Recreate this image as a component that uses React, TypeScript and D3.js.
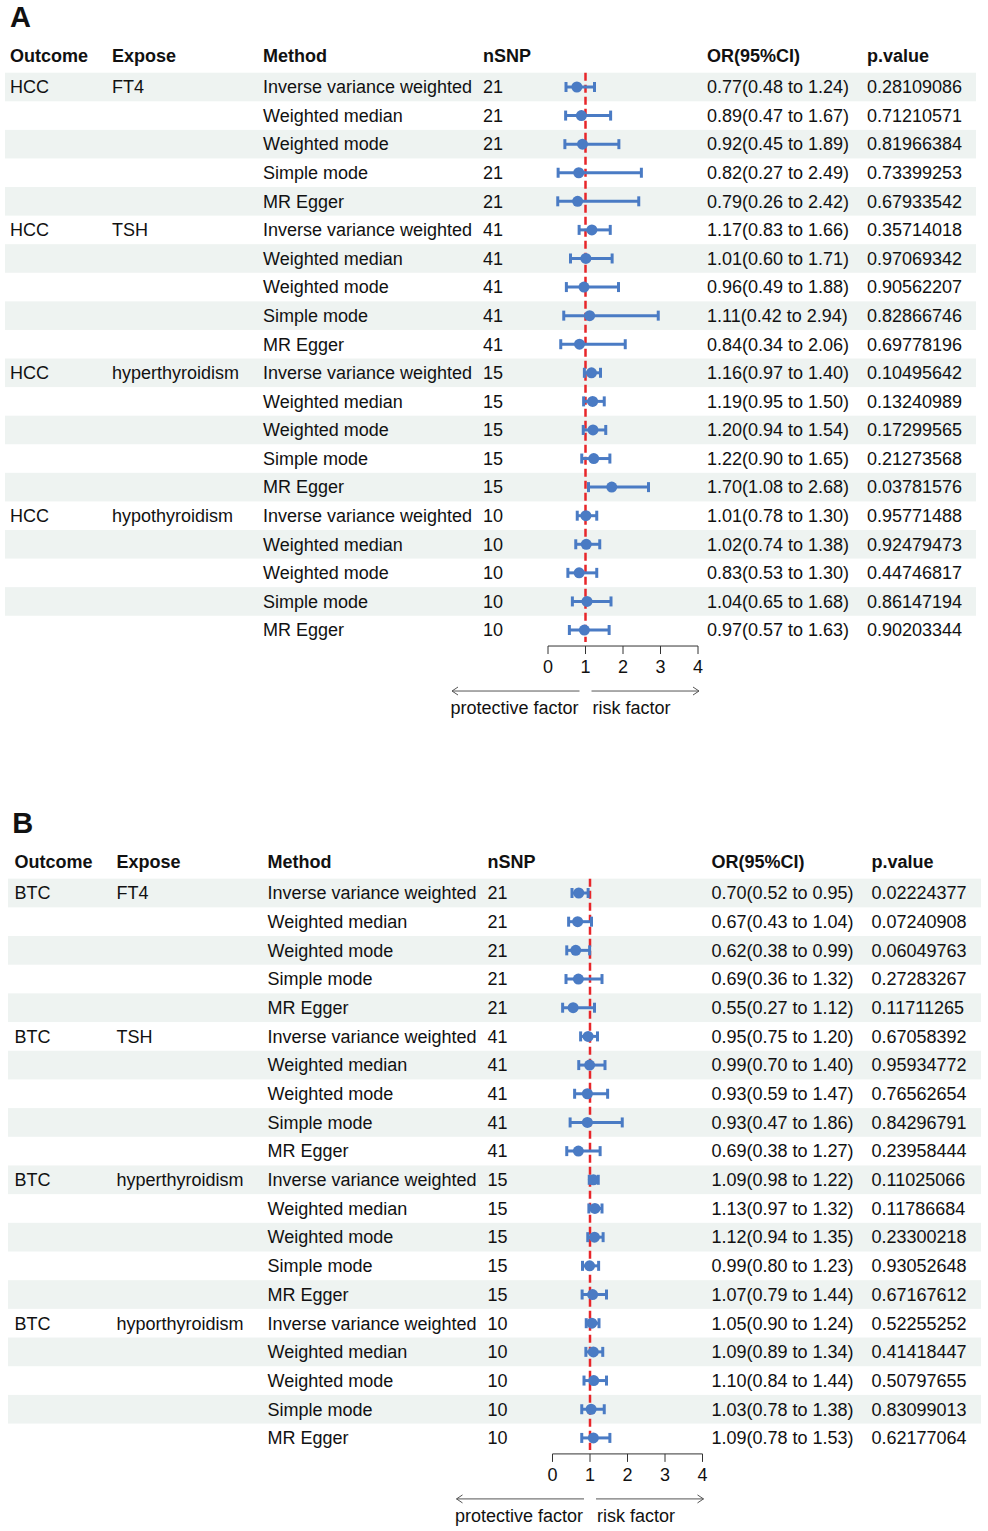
import React from 'react';
import * as d3 from 'd3';

// ---- data ----
const methods = ['Inverse variance weighted', 'Weighted median', 'Weighted mode', 'Simple mode', 'MR Egger'];

const exposeA = ['FT4', 'TSH', 'hyperthyroidism', 'hypothyroidism'];
const nsnpA = [21, 41, 15, 10];
const orA = [0.77, 0.89, 0.92, 0.82, 0.79, 1.17, 1.01, 0.96, 1.11, 0.84, 1.16, 1.19, 1.20, 1.22, 1.70, 1.01, 1.02, 0.83, 1.04, 0.97];
const lowA = [0.48, 0.47, 0.45, 0.27, 0.26, 0.83, 0.60, 0.49, 0.42, 0.34, 0.97, 0.95, 0.94, 0.90, 1.08, 0.78, 0.74, 0.53, 0.65, 0.57];
const highA = [1.24, 1.67, 1.89, 2.49, 2.42, 1.66, 1.71, 1.88, 2.94, 2.06, 1.40, 1.50, 1.54, 1.65, 2.68, 1.30, 1.38, 1.30, 1.68, 1.63];
const pA = ['0.28109086', '0.71210571', '0.81966384', '0.73399253', '0.67933542',
  '0.35714018', '0.97069342', '0.90562207', '0.82866746', '0.69778196',
  '0.10495642', '0.13240989', '0.17299565', '0.21273568', '0.03781576',
  '0.95771488', '0.92479473', '0.44746817', '0.86147194', '0.90203344'];

const exposeB = ['FT4', 'TSH', 'hyperthyroidism', 'hyporthyroidism'];
const nsnpB = [21, 41, 15, 10];
const orB = [0.70, 0.67, 0.62, 0.69, 0.55, 0.95, 0.99, 0.93, 0.93, 0.69, 1.09, 1.13, 1.12, 0.99, 1.07, 1.05, 1.09, 1.10, 1.03, 1.09];
const lowB = [0.52, 0.43, 0.38, 0.36, 0.27, 0.75, 0.70, 0.59, 0.47, 0.38, 0.98, 0.97, 0.94, 0.80, 0.79, 0.90, 0.89, 0.84, 0.78, 0.78];
const highB = [0.95, 1.04, 0.99, 1.32, 1.12, 1.20, 1.40, 1.47, 1.86, 1.27, 1.22, 1.32, 1.35, 1.23, 1.44, 1.24, 1.34, 1.44, 1.38, 1.53];
const pB = ['0.02224377', '0.07240908', '0.06049763', '0.27283267', '0.11711265',
  '0.67058392', '0.95934772', '0.76562654', '0.84296791', '0.23958444',
  '0.11025066', '0.11786684', '0.23300218', '0.93052648', '0.67167612',
  '0.52255252', '0.41418447', '0.50797655', '0.83099013', '0.62177064'];

const headers = ['Outcome', 'Expose', 'Method', 'nSNP', 'OR(95%CI)', 'p.value'];
const xTicks = [0, 1, 2, 3, 4];

const FONT = '"Liberation Sans", Arial, sans-serif';
const BLUE = '#4a7bc4';
const RED = '#e8262a';
const BAND = '#eef3f1';
const TXT = '#111';

interface PanelProps {
  label: string; outcome: string; expose: string[]; nsnp: number[];
  or: number[]; low: number[]; high: number[]; p: string[];
  dx: number; top: number; rowH: number; bandX: [number, number];
}

function Panel({ label, outcome, expose, nsnp, or, low, high, p, dx, top, rowH, bandX }: PanelProps) {
  const cols = [10, 112, 263, 483, 707, 867].map(c => c + dx);
  const n = or.length;
  const y0 = top + 31;
  const y = d3.scaleLinear().domain([0, n - 1]).range([y0, y0 + rowH * (n - 1)]);
  const x = d3.scaleLinear().domain([0, 4]).range([548 + dx, 698 + dx]);
  const last = y(n - 1);
  const axisY = last + 16;

  return (
    <g fontFamily={FONT}>
      <text x={10 + dx * 0.5} y={top - 29} fontSize={29} fontWeight="bold" fill={TXT}>{label}</text>
      {headers.map((h, i) => (
        <text key={h} x={cols[i]} y={top} dy="0.35em" fontSize={18} fontWeight="bold" fill={TXT}>{h}</text>
      ))}
      {or.map((_, i) => i % 2 === 0 && i < n - 1 ? (
        <rect key={'b' + i} x={bandX[0]} width={bandX[1] - bandX[0]} y={y(i) - rowH / 2} height={rowH} fill={BAND} />
      ) : null)}
      {or.map((v, i) => {
        const g = Math.floor(i / 5);
        const m = i % 5;
        return (
          <g key={'r' + i} fontSize={18} fill={TXT}>
            {m === 0 && <text x={cols[0]} y={y(i)} dy="0.35em">{outcome}</text>}
            {m === 0 && <text x={cols[1]} y={y(i)} dy="0.35em">{expose[g]}</text>}
            <text x={cols[2]} y={y(i)} dy="0.35em">{methods[m]}</text>
            <text x={cols[3]} y={y(i)} dy="0.35em">{nsnp[g]}</text>
            <text x={cols[4]} y={y(i)} dy="0.35em">{`${v.toFixed(2)}(${low[i].toFixed(2)} to ${high[i].toFixed(2)})`}</text>
            <text x={cols[5]} y={y(i)} dy="0.35em">{p[i]}</text>
          </g>
        );
      })}
      <line x1={x(1)} x2={x(1)} y1={y0 - rowH / 2} y2={last + 12} stroke={RED} strokeWidth={2.5} strokeDasharray="8,4" />
      {or.map((v, i) => (
        <g key={'m' + i} stroke={BLUE} strokeWidth={3}>
          <line x1={x(low[i])} x2={x(high[i])} y1={y(i)} y2={y(i)} />
          <line x1={x(low[i])} x2={x(low[i])} y1={y(i) - 5} y2={y(i) + 5} />
          <line x1={x(high[i])} x2={x(high[i])} y1={y(i) - 5} y2={y(i) + 5} />
          <circle cx={x(v)} cy={y(i)} r={5.5} fill={BLUE} stroke="none" />
        </g>
      ))}
      <g stroke="#333" strokeWidth={1}>
        <line x1={x(0)} x2={x(4)} y1={axisY} y2={axisY} />
        {xTicks.map(t => <line key={t} x1={x(t)} x2={x(t)} y1={axisY} y2={axisY + 8} />)}
      </g>
      {xTicks.map(t => (
        <text key={'t' + t} x={x(t)} y={last + 37} dy="0.35em" textAnchor="middle" fontSize={18} fill={TXT}>{t}</text>
      ))}
      <g stroke="#555" strokeWidth={1} fill="none">
        <line x1={x(1) - 6} x2={x(0) - 96} y1={last + 61} y2={last + 61} />
        <path d={`M${x(0) - 90},${last + 57}L${x(0) - 96},${last + 61}L${x(0) - 90},${last + 65}`} />
        <line x1={x(1) + 6} x2={x(4) + 1} y1={last + 61} y2={last + 61} />
        <path d={`M${x(4) - 5},${last + 57}L${x(4) + 1},${last + 61}L${x(4) - 5},${last + 65}`} />
      </g>
      <text x={x(1) - 7} y={last + 78} dy="0.35em" textAnchor="end" fontSize={18} fill={TXT}>protective factor</text>
      <text x={x(1) + 7} y={last + 78} dy="0.35em" fontSize={18} fill={TXT}>risk factor</text>
    </g>
  );
}

export default function App() {
  return (
    <svg width={988} height={1531} style={{ position: 'absolute', left: 0, top: 0, background: '#fff' }}>
      <rect width={988} height={1531} fill="#fff" />
      <Panel label="A" outcome="HCC" expose={exposeA} nsnp={nsnpA} or={orA} low={lowA} high={highA} p={pA}
        dx={0} top={56} rowH={28.58} bandX={[5, 976]} />
      <Panel label="B" outcome="BTC" expose={exposeB} nsnp={nsnpB} or={orB} low={lowB} high={highB} p={pB}
        dx={4.5} top={862} rowH={28.68} bandX={[8, 981]} />
    </svg>
  );
}
